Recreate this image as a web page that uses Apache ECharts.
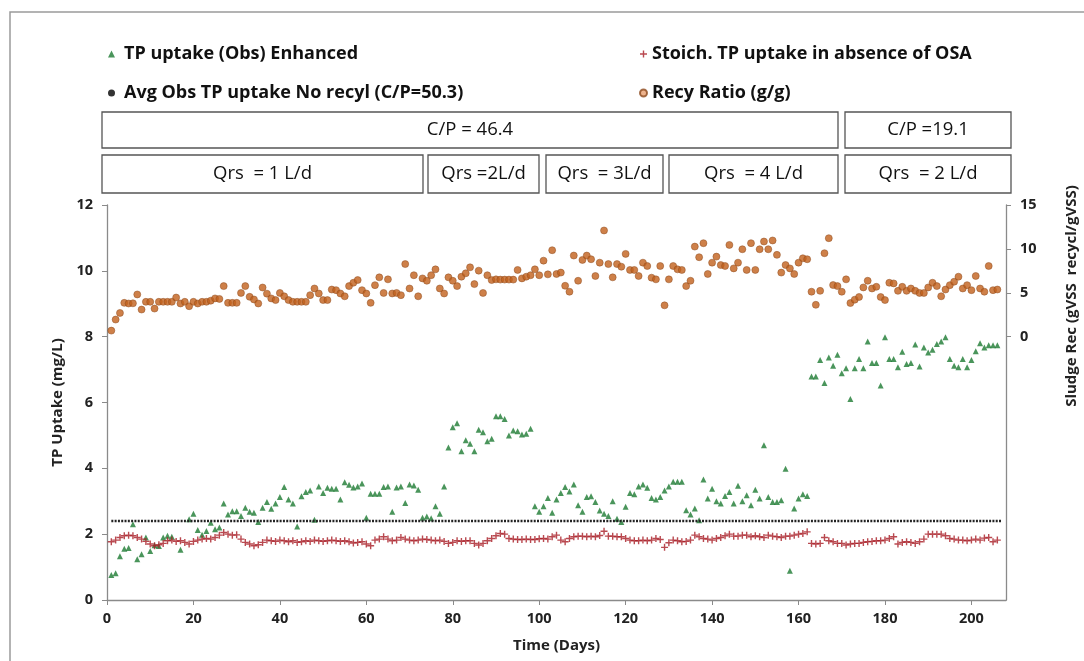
<!DOCTYPE html>
<html>
<head>
<meta charset="utf-8">
<script src="https://cdn.jsdelivr.net/npm/echarts@6/dist/echarts.min.js"></script>
<style>
  html, body { margin: 0; padding: 0; background: #fff; }
  #chart { width: 1084px; height: 661px; }
</style>
</head>
<body>
<div id="chart"></div>
<script>
// TP uptake (Obs) Enhanced - green triangles
const obsDays = [1,2,3,4,5,6,7,8,9,10,11,12,13,14,15,17,19,20,21,22,23,24,25,26,27,28,29,30,
  31,32,33,34,35,36,37,38,39,40,41,42,43,44,45,46,47,48,49,50,51,52,53,54,55,56,57,58,59,60,
  61,62,63,64,65,66,67,68,69,70,71,72,73,74,75,76,77,78,79,80,81,82,83,84,85,86,87,88,89,90,
  91,92,93,94,95,96,97,98,99,100,101,102,103,104,105,106,107,108,109,110,111,112,113,114,115,
  116,117,118,119,120,121,122,123,124,125,126,127,128,129,130,131,132,133,134,135,136,137,138,
  139,140,141,142,143,144,145,146,147,148,149,150,151,152,153,154,155,156,157,158,159,160,161,
  162,163,164,165,166,167,168,169,170,171,172,173,174,175,176,177,178,179,180,181,182,183,184,
  185,186,187,188,189,190,191,192,193,194,195,196,197,198,199,200,201,202,203,204,205,206];
const obsVals = [0.76,0.81,1.33,1.56,1.58,2.3,1.24,1.39,1.9,1.49,1.66,1.64,1.9,1.95,1.92,1.53,2.45,2.62,2.13,1.98,2.1,2.35,2.15,2.2,2.93,2.6,2.7,2.7,
  2.55,2.8,2.68,2.65,2.37,2.8,2.98,2.77,2.93,3.13,3.43,3.05,2.93,2.23,3.15,3.28,3.33,2.44,3.45,3.25,3.41,3.38,3.38,3.05,3.58,3.5,3.42,3.45,3.54,2.5,
  3.23,3.23,3.23,3.43,3.45,2.68,3.42,3.45,2.95,3.51,3.48,3.35,2.5,2.54,2.48,2.85,2.62,3.45,4.63,5.25,5.37,4.52,4.85,4.75,4.52,5.17,5.1,4.82,4.9,5.58,
  5.58,5.5,5.0,5.15,5.13,5.03,5.05,5.2,2.85,2.68,2.85,3.1,2.65,3.05,3.25,3.43,3.3,3.51,2.88,2.68,3.13,3.15,2.98,2.72,2.62,
  2.55,3.0,2.47,2.37,2.83,3.25,3.21,3.45,3.51,3.41,3.1,3.05,3.13,3.33,3.45,3.59,3.59,3.59,2.73,2.6,2.78,2.42,3.66,
  3.08,3.38,3.0,2.93,3.16,3.28,2.93,3.47,3.0,3.18,2.88,3.35,3.08,4.7,3.13,2.98,2.98,3.03,3.99,0.89,2.78,3.08,3.21,
  3.16,6.79,6.79,7.29,6.59,7.37,7.12,7.45,6.89,7.04,6.11,7.04,7.32,7.04,7.85,7.2,7.2,6.52,7.98,7.32,7.32,7.07,7.54,
  7.17,7.2,7.76,7.09,7.67,7.52,7.6,7.78,7.85,7.98,7.32,7.12,7.07,7.32,7.07,7.29,7.56,7.8,7.67,7.74,7.74,7.74];

// Stoich. TP uptake in absence of OSA - red plus, days 1..206
const stoichDays = [];
for (let d = 1; d <= 206; d++) stoichDays.push(d);
const stoichVals = [
  1.77,1.82,1.9,1.95,1.97,1.95,1.9,1.85,1.78,1.7,
  1.65,1.68,1.72,1.8,1.82,1.78,1.8,1.75,1.7,1.78,
  1.82,1.85,1.87,1.85,1.9,1.97,2.05,2.0,1.97,1.98,
  1.85,1.75,1.7,1.65,1.68,1.75,1.82,1.8,1.78,1.82,
  1.8,1.77,1.8,1.75,1.77,1.8,1.78,1.82,1.8,1.78,
  1.8,1.82,1.8,1.78,1.8,1.77,1.73,1.75,1.77,1.7,
  1.65,1.82,1.85,1.92,1.85,1.8,1.82,1.9,1.85,1.82,
  1.8,1.82,1.85,1.84,1.82,1.8,1.82,1.78,1.72,1.75,
  1.8,1.78,1.8,1.8,1.72,1.67,1.72,1.8,1.87,1.95,
  2.02,2.0,1.87,1.85,1.84,1.84,1.85,1.84,1.84,1.86,
  1.87,1.85,1.92,1.97,1.82,1.77,1.87,1.92,1.94,1.94,
  1.92,1.94,1.92,1.96,2.09,1.94,1.94,1.92,1.92,1.87,
  1.82,1.8,1.8,1.82,1.8,1.82,1.87,1.84,1.6,1.74,
  1.82,1.8,1.77,1.78,1.82,1.97,1.92,1.87,1.85,1.82,
  1.87,1.9,1.95,2.0,1.94,1.94,1.97,1.97,1.92,1.95,
  1.92,1.9,1.97,1.94,1.92,1.9,1.94,1.94,1.97,2.0,
  2.02,2.07,1.72,1.7,1.72,1.9,1.8,1.77,1.72,1.72,
  1.67,1.7,1.72,1.72,1.75,1.77,1.78,1.8,1.8,1.82,
  1.87,1.92,1.7,1.75,1.77,1.75,1.72,1.77,1.85,2.0,
  2.0,2.0,2.0,1.95,1.87,1.85,1.82,1.82,1.8,1.82,
  1.85,1.82,1.88,1.9,1.77,1.82];

// Avg Obs TP uptake No recyl (C/P=50.3)
const avgDays = [1, 207];
const avgVals = [2.4, 2.4];

// Recy Ratio (g/g) - orange circles, right axis
const recyDays = [1,2,3,4,5,6,7,8,9,10,11,12,13,14,15,16,17,18,19,20,21,22,23,24,25,26,27,28,29,30,
  31,32,33,34,35,36,37,38,39,40,41,42,43,44,45,46,47,48,49,50,51,52,53,54,55,56,57,58,59,60,
  61,62,63,64,65,66,67,68,69,70,71,72,73,74,75,76,77,78,79,80,81,82,83,84,85,86,87,88,89,90,
  91,92,93,94,95,96,97,98,99,100,101,102,103,104,105,106,107,108,109,110,111,112,113,114,115,
  116,117,118,119,120,121,122,123,124,125,126,127,128,129,130,131,132,133,134,135,136,137,138,
  139,140,141,142,143,144,145,146,147,148,149,150,151,152,153,154,155,156,157,158,159,160,161,
  162,163,164,165,166,167,168,169,170,171,172,173,174,175,176,177,178,179,180,181,182,183,184,
  185,186,187,188,189,190,191,192,193,194,195,196,197,198,199,200,201,202,203,204,205,206];
const recyVals = [0.69,1.95,2.7,3.85,3.78,3.8,4.81,3.09,3.97,3.97,3.2,3.97,3.97,3.97,3.97,4.46,3.78,3.97,3.47,3.97,3.78,3.97,3.97,4.1,4.36,4.3,5.76,3.85,3.85,3.85,
  4.98,5.76,4.54,4.24,3.78,5.6,4.9,4.36,4.17,4.98,4.6,4.17,3.97,3.97,3.97,3.97,4.73,5.49,4.92,4.17,4.17,5.37,5.3,4.92,4.6,5.76,6.14,6.45,5.3,4.92,
  3.85,5.87,6.76,4.98,6.53,4.92,4.98,4.73,8.27,5.49,7.0,4.6,6.64,6.37,7.0,7.67,5.49,4.92,6.76,6.37,5.76,6.83,7.22,7.9,5.99,7.52,4.98,7.0,6.45,6.53,
  6.5,6.5,6.5,6.5,7.6,6.64,6.83,7.0,7.67,7.0,8.66,7.1,9.85,7.14,7.3,5.8,5.12,9.24,6.37,8.74,9.24,8.82,6.91,8.43,12.1,
  8.27,6.76,8.27,7.97,9.43,7.6,7.6,6.91,8.43,8.05,6.72,6.53,8.05,3.57,6.53,8.05,7.67,7.6,5.76,6.37,10.26,9.05,10.65,
  7.14,8.43,9.12,8.16,8.05,10.45,7.78,8.43,9.96,7.6,10.65,7.6,9.96,10.84,9.96,10.96,9.32,7.3,8.16,7.78,7.14,8.43,8.93,
  8.82,5.12,3.63,5.22,9.51,11.22,5.88,5.76,5.12,6.53,3.83,4.21,4.52,5.61,6.37,5.49,5.68,4.52,4.17,6.14,6.07,5.22,5.68,
  5.22,5.49,5.22,4.98,4.98,5.61,6.14,5.76,4.6,5.37,5.87,6.26,6.83,5.49,5.87,5.3,6.91,5.49,5.12,8.05,5.3,5.37];

const xTicks = [0, 20, 40, 60, 80, 100, 120, 140, 160, 180, 200];
const rightTicks = [0, 5, 10, 15];

const pairs = (xs, ys) => xs.map((x, i) => [x, ys[i]]);

const font = '"Open Sans", Lato, sans-serif';
const plusPath = 'path://M4,0h2v4h4v2h-4v4h-2v-4h-4v-2h4z';

// header boxes (C/P and Qrs annotations)
const boxes = [
  { x: 102, y: 112, w: 736, h: 36, text: 'C/P = 46.4' },
  { x: 845, y: 112, w: 166, h: 36, text: 'C/P =19.1' },
  { x: 102, y: 155, w: 321, h: 38, text: 'Qrs  = 1 L/d' },
  { x: 428, y: 155, w: 111, h: 38, text: 'Qrs =2L/d' },
  { x: 546, y: 155, w: 117, h: 38, text: 'Qrs  = 3L/d' },
  { x: 669, y: 155, w: 169, h: 38, text: 'Qrs  = 4 L/d' },
  { x: 845, y: 155, w: 166, h: 38, text: 'Qrs  = 2 L/d' }
];
const graphics = [
  { type: 'rect', shape: { x: 10, y: 12, width: 1100, height: 700 }, style: { fill: 'none', stroke: '#9a9a9a', lineWidth: 1.5 }, silent: true },
  { type: 'text', x: 1072, y: 296, rotation: Math.PI / 2,
    style: { text: 'Sludge Rec (gVSS  recycl/gVSS)', font: 'bold 15px ' + font, fill: '#222', align: 'center', verticalAlign: 'middle' } }
];
boxes.forEach(b => {
  graphics.push({ type: 'rect', shape: { x: b.x, y: b.y, width: b.w, height: b.h }, style: { fill: '#fff', stroke: '#555', lineWidth: 1.3 } });
  graphics.push({ type: 'text', x: b.x + b.w / 2, y: b.y + b.h / 2,
    style: { text: b.text, font: '18.5px ' + font, fill: '#111', align: 'center', verticalAlign: 'middle' } });
});

const legendBase = {
  orient: 'vertical', top: 40, itemWidth: 7, itemHeight: 7, itemGap: 21,
  textStyle: { fontFamily: font, fontWeight: 'bold', fontSize: 18, color: '#111' },
  selectedMode: false
};

const chart = echarts.init(document.getElementById('chart'));
chart.setOption({
  backgroundColor: '#fff',
  animation: false,
  graphic: graphics,
  legend: [
    Object.assign({}, legendBase, { left: 103,
      textStyle: Object.assign({}, legendBase.textStyle, { padding: [0, 0, 0, 4] }),
      data: [
        { name: 'TP uptake (Obs) Enhanced', icon: 'triangle' },
        { name: 'Avg Obs TP uptake No recyl (C/P=50.3)', icon: 'circle', itemStyle: { color: '#333' } }
      ] }),
    Object.assign({}, legendBase, { left: 634, data: [
      { name: 'Stoich. TP uptake in absence of OSA', icon: plusPath },
      { name: 'Recy Ratio (g/g)', icon: 'circle', itemStyle: { color: '#e8a070' } }
    ] })
  ],
  grid: { left: 107, right: 78, top: 205, bottom: 61 },
  xAxis: {
    type: 'value', min: 0, max: 208, interval: 20,
    name: 'Time (Days)', nameLocation: 'middle', nameGap: 38,
    nameTextStyle: { fontFamily: font, fontWeight: 'bold', fontSize: 15, color: '#222' },
    axisLine: { lineStyle: { color: '#8a8a8a', width: 1.3 } },
    axisTick: { length: 5, lineStyle: { color: '#8a8a8a' }, customValues: xTicks },
    axisLabel: { customValues: xTicks, fontFamily: font, fontWeight: 'bold', fontSize: 14.5, color: '#222', margin: 11 },
    splitLine: { show: false }
  },
  yAxis: [
    {
      type: 'value', min: 0, max: 12, interval: 2,
      name: 'TP Uptake (mg/L)', nameLocation: 'middle', nameGap: 38,
      nameTextStyle: { fontFamily: font, fontWeight: 'bold', fontSize: 15, color: '#222' },
      axisLine: { show: true, lineStyle: { color: '#8a8a8a', width: 1.3 } },
      axisTick: { show: true, length: 5, lineStyle: { color: '#8a8a8a' } },
      axisLabel: { fontFamily: font, fontWeight: 'bold', fontSize: 14.5, color: '#222', margin: 14 },
      splitLine: { show: false }
    },
    {
      type: 'value', min: -30, max: 15, interval: 5, position: 'right',
      axisLine: { show: true, lineStyle: { color: '#8a8a8a', width: 1.3 } },
      axisTick: { show: true, length: 5, lineStyle: { color: '#8a8a8a' }, customValues: rightTicks },
      axisLabel: { customValues: rightTicks, fontFamily: font, fontWeight: 'bold', fontSize: 14.5, color: '#222', margin: 14 },
      splitLine: { show: false }
    }
  ],
  series: [
    {
      name: 'Recy Ratio (g/g)', type: 'scatter', yAxisIndex: 1,
      data: pairs(recyDays, recyVals), symbol: 'circle', symbolSize: 7,
      itemStyle: { color: '#c2601c', borderColor: '#8c4a1e', borderWidth: 0.6 }
    },
    {
      name: 'TP uptake (Obs) Enhanced', type: 'scatter',
      data: pairs(obsDays, obsVals), symbol: 'triangle', symbolSize: 6,
      itemStyle: { color: '#1d7a32' }
    },
    {
      name: 'Stoich. TP uptake in absence of OSA', type: 'scatter',
      data: pairs(stoichDays, stoichVals), symbol: plusPath, symbolSize: 7,
      itemStyle: { color: '#a81c24' }
    },
    {
      name: 'Avg Obs TP uptake No recyl (C/P=50.3)', type: 'line',
      data: pairs(avgDays, avgVals), showSymbol: false, symbol: 'circle',
      itemStyle: { color: '#222' },
      lineStyle: { color: '#222', width: 2.5, type: [2, 1.3] }
    }
  ]
});
</script>
</body>
</html>
